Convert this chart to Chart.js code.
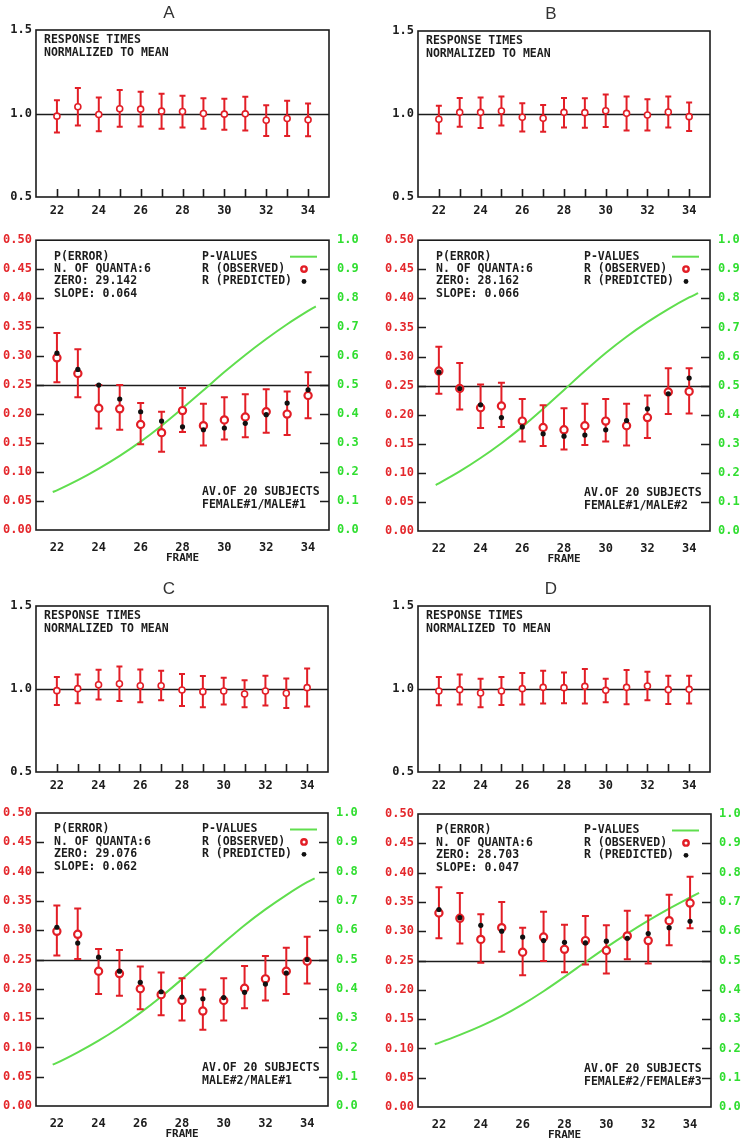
<!DOCTYPE html>
<html>
<head>
<meta charset="utf-8">
<script src="https://cdn.jsdelivr.net/npm/chart.js@4"></script>
<style>
  html, body { margin: 0; padding: 0; background: #fff; }
  #page { position: relative; width: 741px; height: 1143px; overflow: hidden; background: #fff; }
  #page canvas { position: absolute; }
</style>
</head>
<body>
<div id="page"></div>
<script>
// --- shared axes ---
const frames = [22, 23, 24, 25, 26, 27, 28, 29, 30, 31, 32, 33, 34];
const frameTicks = [22, 24, 26, 28, 30, 32, 34];
const rtTicks = [0.5, 1.0, 1.5];
const errTicks = [0, 0.05, 0.10, 0.15, 0.20, 0.25, 0.30, 0.35, 0.40, 0.45, 0.50];
const pTicks = [0, 0.1, 0.2, 0.3, 0.4, 0.5, 0.6, 0.7, 0.8, 0.9, 1.0];

// --- A: female#1 / male#1 ---
const rtA    = [0.984, 1.040, 0.994, 1.028, 1.026, 1.014, 1.012, 1.000, 0.996, 0.998, 0.960, 0.970, 0.962];
const rtA_hi = [1.080, 1.152, 1.096, 1.140, 1.130, 1.118, 1.106, 1.092, 1.088, 1.100, 1.050, 1.076, 1.060];
const rtA_lo = [0.886, 0.928, 0.894, 0.920, 0.922, 0.908, 0.916, 0.908, 0.902, 0.898, 0.866, 0.866, 0.864];
const obsA    = [0.297, 0.270, 0.210, 0.209, 0.182, 0.168, 0.206, 0.180, 0.190, 0.195, 0.204, 0.200, 0.232];
const obsA_hi = [0.340, 0.312, 0.250, 0.250, 0.219, 0.204, 0.245, 0.218, 0.229, 0.234, 0.243, 0.239, 0.272];
const obsA_lo = [0.255, 0.229, 0.175, 0.173, 0.148, 0.135, 0.169, 0.146, 0.156, 0.160, 0.168, 0.164, 0.193];
const predA   = [0.305, 0.277, 0.250, 0.226, 0.204, 0.188, 0.178, 0.173, 0.176, 0.184, 0.199, 0.219, 0.242];
const pFramesA = [21.8, 22, 23, 24, 25, 26, 27, 28, 29, 30, 31, 32, 33, 34, 34.37];
const pvalA    = [0.131, 0.137, 0.172, 0.212, 0.256, 0.305, 0.360, 0.420, 0.482, 0.545, 0.604, 0.659, 0.710, 0.756, 0.772];
const fitA   = ['P(ERROR)', 'N. OF QUANTA:6', 'ZERO: 29.142', 'SLOPE: 0.064'];
const groupA = ['AV.OF 20 SUBJECTS', 'FEMALE#1/MALE#1'];

// --- B: female#1 / male#2 ---
const rtB    = [0.968, 1.010, 1.010, 1.018, 0.980, 0.974, 1.010, 1.008, 1.020, 1.004, 0.994, 1.012, 0.984];
const rtB_hi = [1.050, 1.097, 1.100, 1.105, 1.065, 1.054, 1.097, 1.095, 1.117, 1.105, 1.089, 1.105, 1.070];
const rtB_lo = [0.883, 0.923, 0.915, 0.930, 0.895, 0.893, 0.919, 0.917, 0.921, 0.901, 0.901, 0.919, 0.897];
const obsB    = [0.275, 0.245, 0.212, 0.215, 0.189, 0.178, 0.174, 0.181, 0.189, 0.181, 0.195, 0.239, 0.240];
const obsB_hi = [0.317, 0.289, 0.252, 0.255, 0.227, 0.216, 0.211, 0.219, 0.227, 0.219, 0.233, 0.280, 0.280];
const obsB_lo = [0.236, 0.209, 0.177, 0.179, 0.154, 0.146, 0.140, 0.148, 0.154, 0.147, 0.160, 0.201, 0.202];
const predB   = [0.273, 0.245, 0.217, 0.195, 0.179, 0.167, 0.163, 0.165, 0.174, 0.190, 0.210, 0.236, 0.263];
const pFramesB = [21.85, 22, 23, 24, 25, 26, 27, 28, 29, 30, 31, 32, 33, 34, 34.43];
const pvalB    = [0.158, 0.164, 0.205, 0.251, 0.302, 0.358, 0.420, 0.485, 0.550, 0.612, 0.668, 0.718, 0.763, 0.803, 0.818];
const fitB   = ['P(ERROR)', 'N. OF QUANTA:6', 'ZERO: 28.162', 'SLOPE: 0.066'];
const groupB = ['AV.OF 20 SUBJECTS', 'FEMALE#1/MALE#2'];

// --- C: male#2 / male#1 ---
const rtC    = [0.990, 1.002, 1.026, 1.032, 1.020, 1.020, 0.994, 0.984, 0.988, 0.970, 0.988, 0.974, 1.008];
const rtC_hi = [1.072, 1.088, 1.116, 1.136, 1.118, 1.110, 1.090, 1.078, 1.068, 1.052, 1.080, 1.064, 1.124];
const rtC_lo = [0.904, 0.914, 0.936, 0.928, 0.920, 0.932, 0.898, 0.890, 0.906, 0.890, 0.900, 0.886, 0.894];
const obsC    = [0.298, 0.293, 0.230, 0.226, 0.200, 0.190, 0.180, 0.162, 0.180, 0.201, 0.217, 0.230, 0.247];
const obsC_hi = [0.342, 0.337, 0.268, 0.266, 0.238, 0.228, 0.218, 0.199, 0.218, 0.239, 0.256, 0.270, 0.289];
const obsC_lo = [0.257, 0.251, 0.191, 0.188, 0.165, 0.155, 0.146, 0.130, 0.146, 0.167, 0.180, 0.191, 0.209];
const predC   = [0.305, 0.278, 0.254, 0.230, 0.211, 0.195, 0.186, 0.183, 0.185, 0.194, 0.208, 0.227, 0.250];
const pFramesC = [21.8, 22, 23, 24, 25, 26, 27, 28, 29, 30, 31, 32, 33, 34, 34.36];
const pvalC    = [0.141, 0.147, 0.183, 0.223, 0.268, 0.318, 0.373, 0.433, 0.495, 0.557, 0.617, 0.671, 0.720, 0.764, 0.777];
const fitC   = ['P(ERROR)', 'N. OF QUANTA:6', 'ZERO: 29.076', 'SLOPE: 0.062'];
const groupC = ['AV.OF 20 SUBJECTS', 'MALE#2/MALE#1'];

// --- D: female#2 / female#3 ---
const rtD    = [0.988, 0.996, 0.976, 0.988, 1.002, 1.010, 1.008, 1.016, 0.992, 1.010, 1.018, 0.996, 0.998];
const rtD_hi = [1.072, 1.088, 1.062, 1.072, 1.096, 1.110, 1.100, 1.120, 1.062, 1.114, 1.104, 1.080, 1.080];
const rtD_lo = [0.902, 0.906, 0.890, 0.904, 0.906, 0.912, 0.914, 0.912, 0.920, 0.908, 0.932, 0.910, 0.912];
const obsD    = [0.331, 0.322, 0.286, 0.306, 0.264, 0.290, 0.269, 0.284, 0.267, 0.292, 0.284, 0.318, 0.348];
const obsD_hi = [0.375, 0.365, 0.329, 0.350, 0.306, 0.333, 0.311, 0.326, 0.310, 0.335, 0.327, 0.362, 0.393];
const obsD_lo = [0.288, 0.279, 0.246, 0.265, 0.225, 0.249, 0.230, 0.243, 0.228, 0.252, 0.245, 0.276, 0.305];
const predD   = [0.337, 0.323, 0.310, 0.300, 0.290, 0.284, 0.281, 0.280, 0.283, 0.288, 0.296, 0.306, 0.317];
const pFramesD = [21.8, 22, 23, 24, 25, 26, 27, 28, 29, 30, 31, 32, 33, 34, 34.43];
const pvalD    = [0.214, 0.219, 0.246, 0.276, 0.310, 0.350, 0.395, 0.444, 0.495, 0.545, 0.592, 0.636, 0.677, 0.715, 0.731];
const fitD   = ['P(ERROR)', 'N. OF QUANTA:6', 'ZERO: 28.703', 'SLOPE: 0.047'];
const groupD = ['AV.OF 20 SUBJECTS', 'FEMALE#2/FEMALE#3'];

// --- labels common to every panel ---
const rtNote = ['RESPONSE TIMES', 'NORMALIZED TO MEAN'];
const legendLines = ['P-VALUES', 'R (OBSERVED)', 'R (PREDICTED)'];
const frameTitle = 'FRAME';

// colours and fonts
const RED = 'rgb(226,30,38)';
const RED_TXT = 'rgb(228,40,44)';
const GREEN = 'rgb(96,222,78)';
const GREEN_TXT = 'rgb(48,222,48)';
const INK = '#1c1c1c';
const MONO = '"DejaVu Sans Mono", monospace';
const TICK_FONT = { family: 'DejaVu Sans Mono', size: 12, weight: 'bold' };
const NOTE_FONT = 'bold 11.5px ' + MONO;

Chart.defaults.font.family = 'DejaVu Sans Mono';
Chart.defaults.color = INK;

const page = document.getElementById('page');

const pts = (xs, ys) => xs.map((x, i) => ({ x: x, y: ys[i] }));

function xScale(p, pad) {
    return {
        type: 'linear', min: 21, max: 35,
        grid: { display: false, drawTicks: false },
        border: { display: false },
        afterBuildTicks: s => { s.ticks = frameTicks.map(v => ({ value: v })); },
        afterFit: s => { s.height = p.xH; },
        ticks: { color: INK, font: TICK_FONT, padding: pad, autoSkip: false, maxRotation: 0 }
    };
}

// frame, tick marks, reference line, error bars and the written notes
function decor(p) {
    return {
        id: 'decor' + p.key,
        beforeDatasetsDraw(chart) {
            const { ctx, chartArea: a, scales } = chart;
            const y = Math.round(scales.y.getPixelForValue(p.ref)) + 0.5;
            ctx.save();
            ctx.strokeStyle = INK;
            ctx.lineWidth = 1.4;
            ctx.beginPath();
            ctx.moveTo(a.left, y);
            ctx.lineTo(a.right, y);
            ctx.stroke();
            ctx.restore();
        },
        beforeDatasetDraw(chart, args) {
            const ds = chart.data.datasets[args.index];
            if (!ds.errHi) return;
            const { ctx, scales } = chart;
            ctx.save();
            ctx.strokeStyle = RED;
            ctx.lineWidth = 2;
            ctx.beginPath();
            ds.data.forEach((pt, i) => {
                const x = scales.x.getPixelForValue(pt.x);
                const hi = scales.y.getPixelForValue(ds.errHi[i]);
                const lo = scales.y.getPixelForValue(ds.errLo[i]);
                ctx.moveTo(x, hi); ctx.lineTo(x, lo);
                ctx.moveTo(x - ds.cap, hi); ctx.lineTo(x + ds.cap, hi);
                ctx.moveTo(x - ds.cap, lo); ctx.lineTo(x + ds.cap, lo);
            });
            ctx.stroke();
            ctx.restore();
        },
        afterDraw(chart) {
            const { ctx, chartArea: a, scales } = chart;
            ctx.save();
            ctx.strokeStyle = INK;
            ctx.lineWidth = 1.6;
            ctx.strokeRect(a.left, a.top, a.right - a.left, a.bottom - a.top);

            ctx.fillStyle = INK;
            ctx.font = NOTE_FONT;
            ctx.textBaseline = 'middle';
            ctx.textAlign = 'left';

            if (p.top) {
                // panel letter
                ctx.font = '17px "Liberation Sans", Arial, sans-serif';
                ctx.textAlign = 'center';
                ctx.fillStyle = '#333';
                ctx.fillText(p.key, a.left + 133, a.top - 16.5);
                // inward frame ticks
                ctx.lineWidth = 1.6;
                ctx.beginPath();
                frames.forEach(f => {
                    const x = Math.round(scales.x.getPixelForValue(f)) + 0.5;
                    ctx.moveTo(x, a.bottom);
                    ctx.lineTo(x, a.bottom - 8);
                });
                ctx.stroke();
                ctx.font = NOTE_FONT;
                ctx.textAlign = 'left';
                ctx.fillStyle = INK;
                rtNote.forEach((s, i) => ctx.fillText(s, a.left + 8, a.top + 10.5 + i * 12.4));
            } else {
                // inward ticks on both value axes
                ctx.lineWidth = 1.6;
                ctx.beginPath();
                pTicks.slice(1, -1).forEach(v => {
                    const y = Math.round(scales.y2.getPixelForValue(v)) + 0.5;
                    ctx.moveTo(a.right, y);
                    ctx.lineTo(a.right - 9, y);
                });
                errTicks.slice(1, -1).forEach(v => {
                    const y = Math.round(scales.y.getPixelForValue(v)) + 0.5;
                    ctx.moveTo(a.left, y);
                    ctx.lineTo(a.left + 8, y);
                });
                ctx.stroke();

                p.fit.forEach((s, i) => ctx.fillText(s, a.left + 18, a.top + 16.5 + i * 12.4));
                legendLines.forEach((s, i) => ctx.fillText(s, a.left + 166, a.top + 16.5 + i * 12.4));
                p.group.forEach((s, i) => ctx.fillText(s, a.left + 166, a.bottom - 37.5 + i * 12.2));

                ctx.textAlign = 'center';
                ctx.font = 'bold 11px ' + MONO;
                ctx.fillText(frameTitle, (a.left + a.right) / 2, a.bottom + 28.5);

                // legend keys
                const r1 = a.top + 16.5, r2 = r1 + 12.4, r3 = r2 + 12.4;
                ctx.strokeStyle = GREEN;
                ctx.lineWidth = 2;
                ctx.beginPath();
                ctx.moveTo(a.left + 254, r1);
                ctx.lineTo(a.left + 281, r1);
                ctx.stroke();
                ctx.strokeStyle = RED;
                ctx.lineWidth = 2.4;
                ctx.beginPath();
                ctx.arc(a.left + 268, r2, 2.7, 0, Math.PI * 2);
                ctx.stroke();
                ctx.fillStyle = '#111';
                ctx.beginPath();
                ctx.arc(a.left + 268, r3, 2.4, 0, Math.PI * 2);
                ctx.fill();
            }
            ctx.restore();
        }
    };
}

function makeTop(p) {
    const cv = document.createElement('canvas');
    cv.width = p.cw; cv.height = p.ch;
    cv.style.left = p.cx + 'px'; cv.style.top = p.cy + 'px';
    page.appendChild(cv);
    new Chart(cv.getContext('2d'), {
        type: 'scatter',
        data: {
            datasets: [{
                data: pts(frames, p.rt),
                errHi: p.hi, errLo: p.lo, cap: 3,
                pointRadius: 3.0, borderWidth: 1.6,
                borderColor: RED, backgroundColor: '#fff'
            }]
        },
        options: {
            responsive: false, animation: false, devicePixelRatio: 1,
            layout: { padding: { left: 0, top: p.t, right: p.rW, bottom: 0 } },
            plugins: { legend: { display: false }, tooltip: { enabled: false } },
            scales: {
                x: xScale(p, 7),
                y: {
                    min: 0.5, max: 1.5, position: 'left',
                    grid: { display: false, drawTicks: false },
                    border: { display: false },
                    afterBuildTicks: s => { s.ticks = rtTicks.map(v => ({ value: v })); },
                    afterFit: s => { s.width = p.yW; },
                    ticks: { color: INK, font: TICK_FONT, padding: 4, autoSkip: false, callback: v => v.toFixed(1) }
                }
            }
        },
        plugins: [decor(p)]
    });
}

function makeBottom(p) {
    const cv = document.createElement('canvas');
    cv.width = p.cw; cv.height = p.ch;
    cv.style.left = p.cx + 'px'; cv.style.top = p.cy + 'px';
    page.appendChild(cv);
    new Chart(cv.getContext('2d'), {
        type: 'scatter',
        data: {
            datasets: [
                {
                    label: 'R (PREDICTED)', order: 1,
                    data: pts(frames, p.pred),
                    pointRadius: 2.6, borderWidth: 0,
                    backgroundColor: '#111', borderColor: '#111'
                },
                {
                    label: 'R (OBSERVED)', order: 2,
                    data: pts(frames, p.obs),
                    errHi: p.hi, errLo: p.lo, cap: 3.5,
                    pointRadius: 3.6, borderWidth: 2.2,
                    borderColor: RED, backgroundColor: '#fff'
                },
                {
                    label: 'P-VALUES', order: 3, yAxisID: 'y2',
                    data: pts(p.pFrames, p.pval),
                    showLine: true, pointRadius: 0, borderWidth: 2,
                    borderColor: GREEN, cubicInterpolationMode: 'monotone'
                }
            ]
        },
        options: {
            responsive: false, animation: false, devicePixelRatio: 1,
            layout: { padding: { left: 0, top: p.t, right: 0, bottom: 0 } },
            plugins: { legend: { display: false }, tooltip: { enabled: false } },
            scales: {
                x: xScale(p, 11),
                y: {
                    min: 0, max: 0.5, position: 'left',
                    grid: { display: false, drawTicks: false },
                    border: { display: false },
                    afterBuildTicks: s => { s.ticks = errTicks.map(v => ({ value: v })); },
                    afterFit: s => { s.width = p.yW; },
                    ticks: { color: RED_TXT, font: TICK_FONT, padding: 4, autoSkip: false, callback: v => v.toFixed(2) }
                },
                y2: {
                    type: 'linear', min: 0, max: 1, position: 'right',
                    grid: { display: false, drawTicks: false },
                    border: { display: false },
                    afterBuildTicks: s => { s.ticks = pTicks.map(v => ({ value: v })); },
                    afterFit: s => { s.width = p.rW; },
                    ticks: { color: GREEN_TXT, font: TICK_FONT, padding: 8, autoSkip: false, callback: v => v.toFixed(1) }
                }
            }
        },
        plugins: [decor(p)]
    });
}

// page placement of the eight panels
makeTop({ key: 'A', top: true, ref: 1.0, rt: rtA, hi: rtA_hi, lo: rtA_lo,
          cx: 0, cy: 0, cw: 370, ch: 225, yW: 36, t: 30, rW: 41, xH: 28 });
makeBottom({ key: 'A', top: false, ref: 0.25, obs: obsA, hi: obsA_hi, lo: obsA_lo, pred: predA,
             pFrames: pFramesA, pval: pvalA, fit: fitA, group: groupA,
             cx: 0, cy: 225, cw: 370, ch: 345, yW: 36, t: 14, rW: 41, xH: 40 });

makeTop({ key: 'B', top: true, ref: 1.0, rt: rtB, hi: rtB_hi, lo: rtB_lo,
          cx: 370, cy: 0, cw: 371, ch: 225, yW: 48, t: 31, rW: 31, xH: 28 });
makeBottom({ key: 'B', top: false, ref: 0.25, obs: obsB, hi: obsB_hi, lo: obsB_lo, pred: predB,
             pFrames: pFramesB, pval: pvalB, fit: fitB, group: groupB,
             cx: 370, cy: 225, cw: 371, ch: 345, yW: 48, t: 14, rW: 31, xH: 39 });

makeTop({ key: 'C', top: true, ref: 1.0, rt: rtC, hi: rtC_hi, lo: rtC_lo,
          cx: 0, cy: 570, cw: 370, ch: 225, yW: 36, t: 36, rW: 42, xH: 23 });
makeBottom({ key: 'C', top: false, ref: 0.25, obs: obsC, hi: obsC_hi, lo: obsC_lo, pred: predC,
             pFrames: pFramesC, pval: pvalC, fit: fitC, group: groupC,
             cx: 0, cy: 795, cw: 370, ch: 348, yW: 36, t: 18, rW: 42, xH: 37 });

makeTop({ key: 'D', top: true, ref: 1.0, rt: rtD, hi: rtD_hi, lo: rtD_lo,
          cx: 370, cy: 570, cw: 371, ch: 225, yW: 48, t: 36, rW: 31, xH: 23 });
makeBottom({ key: 'D', top: false, ref: 0.25, obs: obsD, hi: obsD_hi, lo: obsD_lo, pred: predD,
             pFrames: pFramesD, pval: pvalD, fit: fitD, group: groupD,
             cx: 370, cy: 795, cw: 371, ch: 348, yW: 48, t: 19, rW: 30, xH: 36 });
</script>
</body>
</html>
